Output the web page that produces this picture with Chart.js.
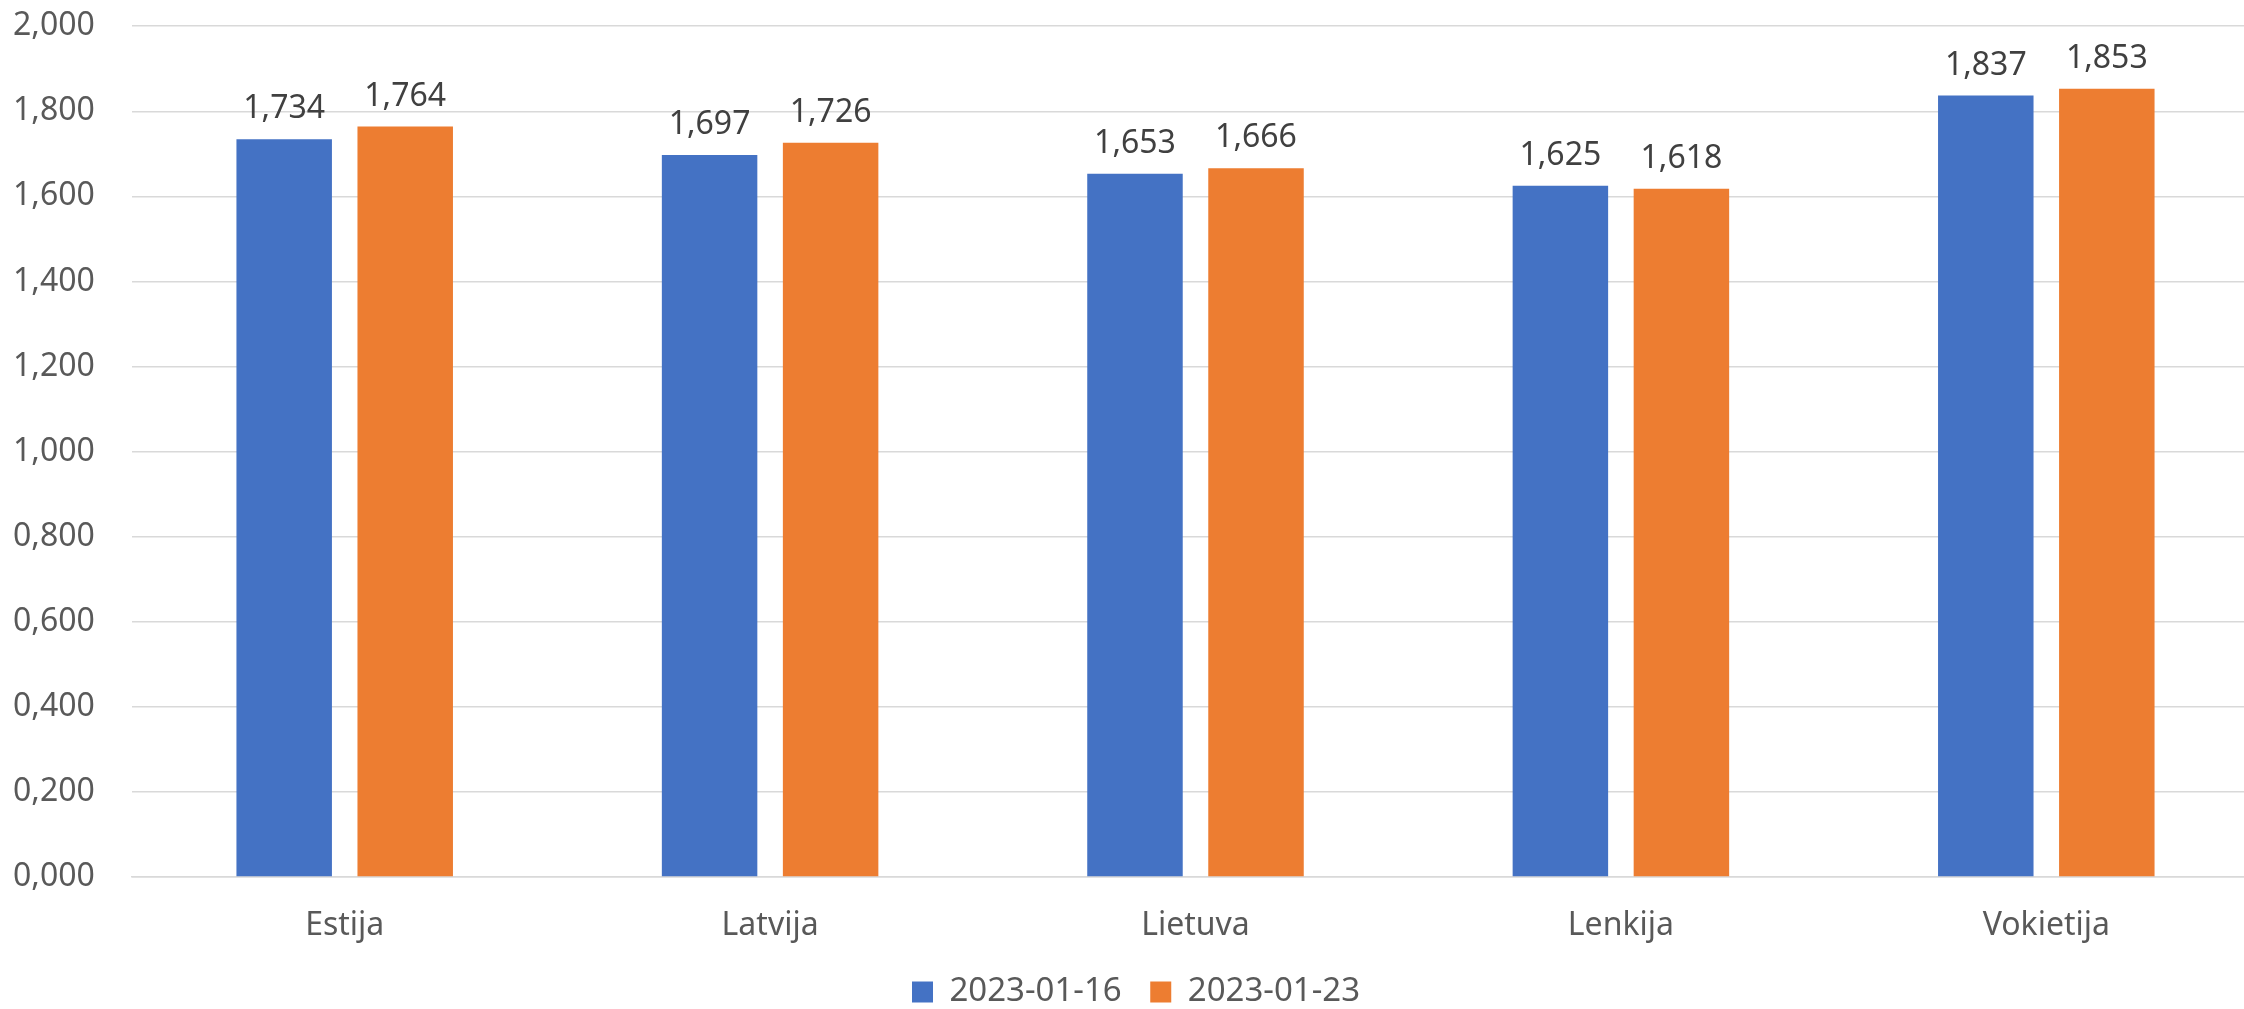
<!DOCTYPE html>
<html>
<head>
<meta charset="utf-8">
<script src="https://cdn.jsdelivr.net/npm/chart.js@4/dist/chart.umd.min.js"></script>
<style>
  html, body { margin: 0; padding: 0; background: #fff; overflow: hidden; }
  #wrap { position: absolute; left: 0; top: 0; width: 2280px; height: 1009px; }
</style>
</head>
<body>
<div id="wrap"><canvas id="chartPrices"></canvas></div>
<script>
// ── Data ──
const countries = ['Estija', 'Latvija', 'Lietuva', 'Lenkija', 'Vokietija'];
const seriesNames = ['2023-01-16', '2023-01-23'];
const pricesJan16 = [1.734, 1.697, 1.653, 1.625, 1.837];
const pricesJan23 = [1.764, 1.726, 1.666, 1.618, 1.853];
const yMin = 0, yMax = 2, yStep = 0.2;

const FONT = '"Noto Sans", "DejaVu Sans", sans-serif';

// comma decimal, three places: 1.734 -> "1,734"
function fmt(v) {
  return Number(v).toFixed(3).replace('.', ',');
}

// ── Value labels above each bar ──
const barValues = {
  id: 'barValues',
  afterDatasetsDraw(chart) {
    const ctx = chart.ctx;
    ctx.save();
    ctx.font = '32px ' + FONT;
    ctx.fillStyle = '#404040';
    ctx.textAlign = 'center';
    ctx.textBaseline = 'alphabetic';
    chart.data.datasets.forEach((ds, i) => {
      chart.getDatasetMeta(i).data.forEach((bar, j) => {
        ctx.fillText(fmt(ds.data[j]), bar.x, bar.y - 21);
      });
    });
    ctx.restore();
  }
};

new Chart(document.getElementById('chartPrices'), {
  type: 'bar',
  data: {
    labels: countries,
    datasets: [
      { label: seriesNames[0], data: pricesJan16, backgroundColor: '#4472C4' },
      { label: seriesNames[1], data: pricesJan23, backgroundColor: '#ED7D31' }
    ]
  },
  options: {
    responsive: true,
    maintainAspectRatio: false,
    animation: false,
    categoryPercentage: 0.569,
    barPercentage: 0.789,
    // plot runs a little past the right edge of the window, like the original
    layout: { padding: { top: 0, right: 21, left: 13, bottom: 0 } },
    plugins: {
      legend: {
        position: 'bottom',
        maxHeight: 62,
        labels: {
          boxWidth: 21,
          boxHeight: 21,
          padding: 28.5,
          color: '#595959',
          font: { family: FONT, size: 33 }
        }
      },
      tooltip: { enabled: false }
    },
    scales: {
      x: {
        afterFit: s => { s.height = 70; },
        grid: { display: false, drawTicks: false },
        border: { color: '#d9d9d9', width: 1.5 },
        ticks: { color: '#595959', padding: 30, font: { family: FONT, size: 32 } }
      },
      y: {
        min: yMin,
        max: yMax,
        afterFit: s => { s.width = 119; },
        grid: { color: '#d9d9d9', lineWidth: 1.5, drawTicks: false },
        border: { display: false },
        ticks: {
          stepSize: yStep,
          padding: 7,
          crossAlign: 'far',
          color: '#595959',
          font: { family: FONT, size: 32 },
          callback: v => fmt(v)
        }
      }
    }
  },
  plugins: [barValues]
});
</script>
</body>
</html>
